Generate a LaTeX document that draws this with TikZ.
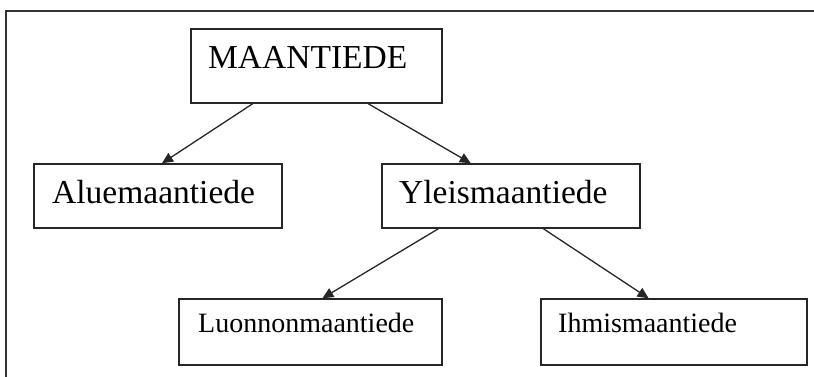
\documentclass[tikz,border=0pt]{standalone}
\usepackage{fontspec}
\setmainfont{Liberation Serif}
\usetikzlibrary{arrows.meta,calc}

\tikzset{
  box/.style={draw=black!85, line width=1.5pt, fill=white, inner sep=0pt},
  lbl/.style={anchor=base west, inner sep=0pt, text=black},
  big/.style={lbl, font=\fontsize{33.5}{40}\selectfont},
  small/.style={lbl, font=\fontsize{28}{34}\selectfont},
  link/.style={draw=black!85, line width=1.3pt,
    -{Triangle[length=11pt,width=10pt]}},
}

\begin{document}
\begin{tikzpicture}[x=1pt, y=-1pt]
  \useasboundingbox (0,0) rectangle (814,376);

  % outer frame (only its top and left sides fall inside the page)
  \draw[black!80, line width=2pt] (820,10.5) -- (6,10.5) -- (6,382);

  % boxes
  \node[box, minimum width=251pt, minimum height=74pt] (maa)  at (316.5,66) {};
  \node[box, minimum width=248pt, minimum height=64pt] (alue) at (158,196) {};
  \node[box, minimum width=258pt, minimum height=64pt] (yle)  at (511,196) {};
  \node[box, minimum width=263pt, minimum height=66pt] (luo)  at (310.5,332) {};
  \node[box, minimum width=266pt, minimum height=66pt] (ihm)  at (674,332) {};

  % labels, set near the top left of each box
  \node[big]   (maat)  at (208,68)  {MAANTIEDE};
  \node[big]   (aluet) at (52,203)  {Aluemaantiede};
  \node[big]   (ylet)  at (399,203) {Yleismaantiede};
  \node[small] (luot)  at (198,332) {Luonnonmaantiede};
  \node[small] (ihmt)  at (558,332) {Ihmismaantiede};

  % connectors
  \draw[link] ($(maa.south west)!0.247!(maa.south east)$) -- ($(alue.north west)!0.516!(alue.north east)$);
  \draw[link] ($(maa.south west)!0.705!(maa.south east)$) -- ($(yle.north west)!0.345!(yle.north east)$);
  \draw[link] ($(yle.south west)!0.22!(yle.south east)$)  -- ($(luo.north west)!0.545!(luo.north east)$);
  \draw[link] ($(yle.south west)!0.625!(yle.south east)$) -- ($(ihm.north west)!0.405!(ihm.north east)$);
\end{tikzpicture}
\end{document}
